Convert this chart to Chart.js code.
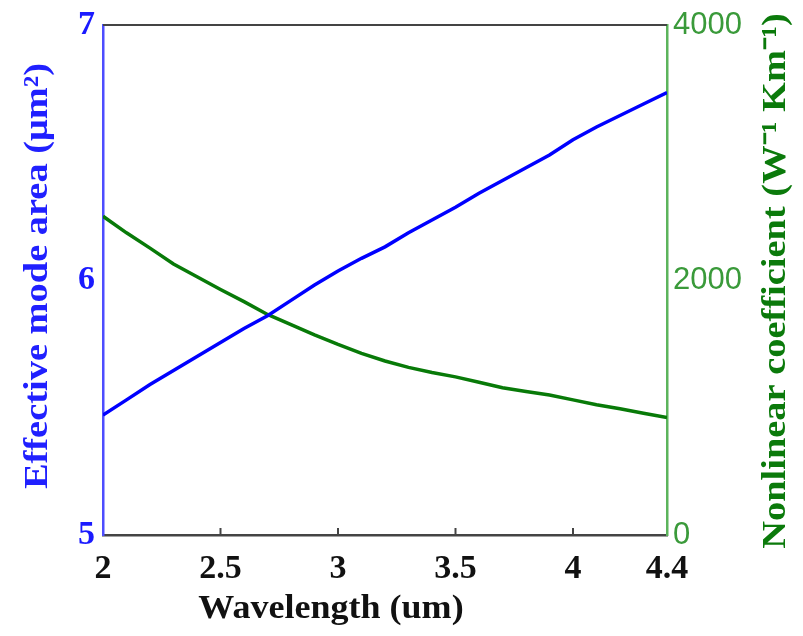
<!DOCTYPE html>
<html>
<head>
<meta charset="utf-8">
<title>Effective mode area and nonlinear coefficient</title>
<script src="https://cdn.jsdelivr.net/npm/chart.js@4.4.1/dist/chart.umd.min.js"></script>
<style>
  html, body { margin: 0; padding: 0; background: #fff; }
  #wrap { width: 803px; height: 636px; }
</style>
</head>
<body>
<div id="wrap"><canvas id="modeChart" width="803" height="636"></canvas></div>
<script>
// wavelength (um)
const wavelength = [2.0, 2.1, 2.2, 2.3, 2.4, 2.5, 2.6, 2.7, 2.8, 2.9, 3.0, 3.1, 3.2,
                    3.3, 3.4, 3.5, 3.6, 3.7, 3.8, 3.9, 4.0, 4.1, 4.2, 4.3, 4.4];
// effective mode area (um^2), left axis
const modeArea = [5.47, 5.53, 5.59, 5.645, 5.70, 5.755, 5.81, 5.86, 5.92, 5.98, 6.035, 6.085, 6.13,
                  6.185, 6.235, 6.285, 6.34, 6.39, 6.44, 6.49, 6.55, 6.60, 6.645, 6.69, 6.735];
// nonlinear coefficient (W^-1 km^-1), right axis
const nonlinearCoef = [2500, 2370, 2250, 2125, 2025, 1925, 1830, 1730, 1650, 1570, 1495, 1425, 1365,
                       1315, 1275, 1240, 1198, 1155, 1125, 1098, 1060, 1022, 990, 955, 922];
const xTicks = [2, 2.5, 3, 3.5, 4, 4.4];
const leftTicks = [5, 6, 7];
const rightTicks = [0, 2000, 4000];

const serifFamily = '"Liberation Serif", "Times New Roman", serif';
const serifBold = { family: serifFamily, weight: 'bold' };

// writes a title, stretched along its length like the figure's lettering
function stretchedText(ctx, text, x, y, angle, stretch, color) {
    ctx.save();
    ctx.translate(x, y);
    ctx.rotate(angle);
    ctx.scale(stretch, 1);
    ctx.fillStyle = color;
    ctx.font = 'bold 34px ' + serifFamily;
    ctx.textAlign = 'center';
    ctx.textBaseline = 'middle';
    ctx.fillText(text, 0, 0);
    ctx.restore();
}

// top frame line, inward ticks on the x axis and the three titles
const framePlugin = {
    id: 'frame',
    afterDraw(chart) {
        const { ctx, chartArea: a, scales } = chart;
        ctx.save();
        ctx.strokeStyle = '#444';
        ctx.lineWidth = 2;
        ctx.beginPath();
        ctx.moveTo(a.left, a.top);
        ctx.lineTo(a.right, a.top);
        ctx.stroke();

        scales.x.ticks.forEach(t => {
            if (t.value === 2 || t.value === 4.4) return;
            const px = scales.x.getPixelForValue(t.value);
            ctx.beginPath();
            ctx.moveTo(px, a.bottom);
            ctx.lineTo(px, a.bottom - 7);
            ctx.stroke();
        });
        ctx.restore();

        stretchedText(ctx, 'Wavelength (um)', 331, 609, 0, 1.06, '#111');
        stretchedText(ctx, 'Effective mode area (\u03BCm\u00B2)', 38, 276, -Math.PI / 2, 1.13, '#2020ff');
        stretchedText(ctx, 'Nonlinear coefficient (W\u207B\u00B9 Km\u207B\u00B9)', 776, 281, -Math.PI / 2, 1.13, '#0b7a0b');
    }
};

new Chart(document.getElementById('modeChart').getContext('2d'), {
    type: 'line',
    data: {
        datasets: [
            {
                label: 'Effective mode area',
                data: wavelength.map((w, i) => ({ x: w, y: modeArea[i] })),
                yAxisID: 'yLeft',
                borderColor: '#0000ff',
                borderWidth: 3.5,
                pointRadius: 0,
                tension: 0
            },
            {
                label: 'Nonlinear coefficient',
                data: wavelength.map((w, i) => ({ x: w, y: nonlinearCoef[i] })),
                yAxisID: 'yRight',
                borderColor: '#087a08',
                borderWidth: 3.5,
                pointRadius: 0,
                tension: 0
            }
        ]
    },
    options: {
        responsive: false,
        animation: false,
        layout: { padding: { top: 23, left: 0, right: 0, bottom: 0 } },
        plugins: { legend: { display: false }, tooltip: { enabled: false } },
        scales: {
            x: {
                type: 'linear',
                min: 2, max: 4.4,
                afterBuildTicks: s => { s.ticks = xTicks.map(v => ({ value: v })); },
                afterFit: s => { s.height = 101; },
                grid: { display: false, drawTicks: false },
                border: { display: true, color: '#444', width: 2.5 },
                ticks: {
                    color: '#111',
                    font: { ...serifBold, size: 34 },
                    padding: 14,
                    maxRotation: 0,
                    callback: v => String(v)
                }
            },
            yLeft: {
                type: 'linear',
                position: 'left',
                min: 5, max: 7,
                afterBuildTicks: s => { s.ticks = leftTicks.map(v => ({ value: v })); },
                afterFit: s => { s.width = 103; },
                grid: { display: false, drawTicks: false },
                border: { display: true, color: '#4d4dff', width: 2.5 },
                ticks: { color: '#1a1aff', font: { ...serifBold, size: 34, lineHeight: 1 }, padding: 8 }
            },
            yRight: {
                type: 'linear',
                position: 'right',
                min: 0, max: 4000,
                afterBuildTicks: s => { s.ticks = rightTicks.map(v => ({ value: v })); },
                afterFit: s => { s.width = 136; },
                grid: { display: false, drawTicks: false },
                border: { display: true, color: '#5cb45c', width: 2.5 },
                ticks: {
                    color: '#3a9a3a',
                    font: { family: '"Liberation Sans", Arial, sans-serif', size: 31, lineHeight: 1 },
                    padding: 6,
                    callback: v => String(v)
                }
            }
        }
    },
    plugins: [framePlugin]
});
</script>
</body>
</html>
